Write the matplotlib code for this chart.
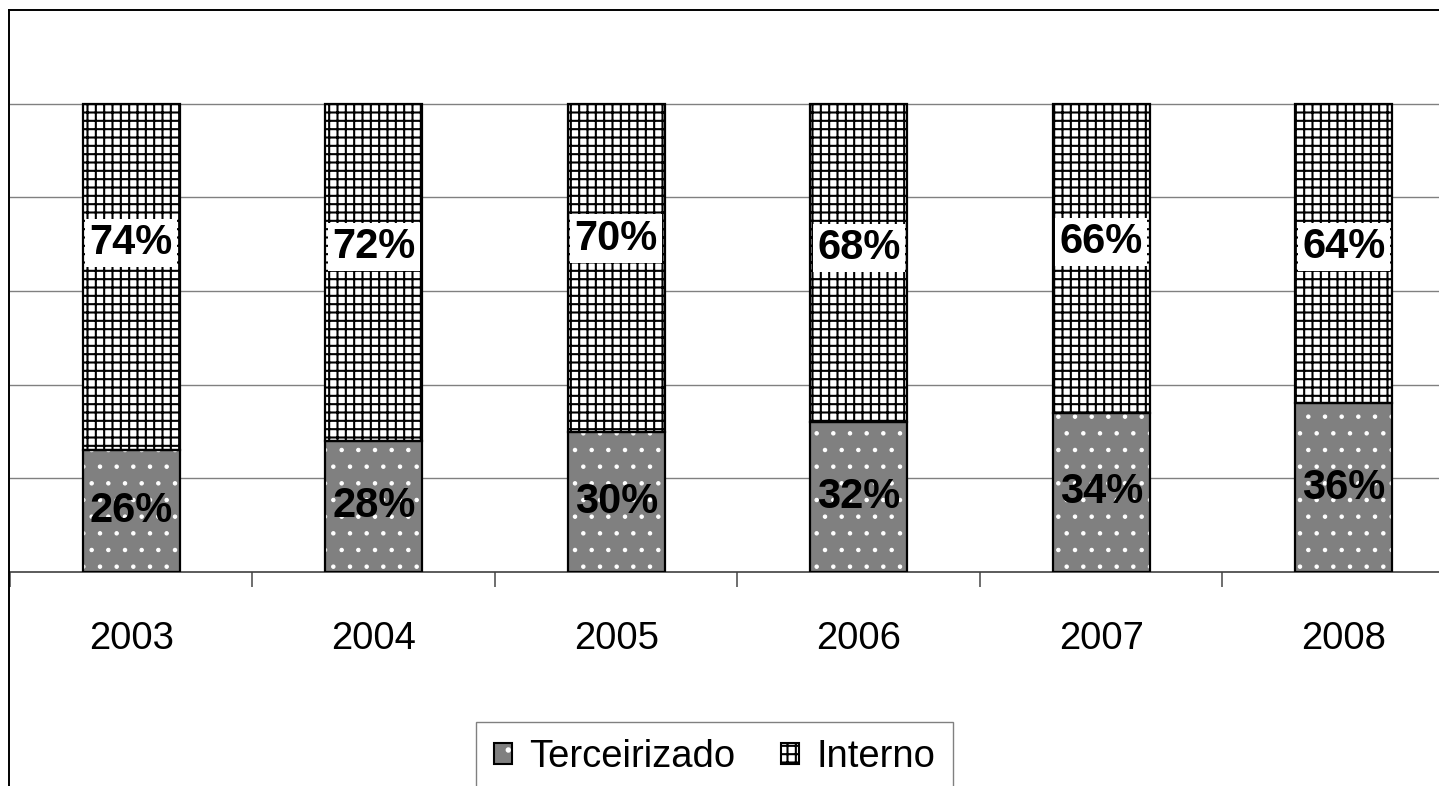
import matplotlib
matplotlib.use("Agg")
import matplotlib.pyplot as plt
from matplotlib.patches import Patch
from matplotlib.lines import Line2D
from matplotlib.legend_handler import HandlerTuple
import numpy as np

years = ["2003", "2004", "2005", "2006", "2007", "2008"]
terceirizado = [26, 28, 30, 32, 34, 36]
interno = [74, 72, 70, 68, 66, 64]

# the "interno" labels sit around 70 in the original, not centred in the segment
interno_label_y = [70.3, 69.4, 71.2, 69.2, 70.5, 69.4]

plt.rcParams["font.family"] = ["Liberation Sans", "DejaVu Sans"]

W, H = 1439, 786
fig = plt.figure(figsize=(W / 100, H / 100), dpi=100)
# plot area runs past the right edge of the picture (cropped chart)
ax = fig.add_axes([10 / W, (H - 572) / H, 1455 / W, 562 / H])

x = np.arange(len(years))
bw = 0.4

# fills with hatch first, black outlines drawn on top
plt.rcParams["hatch.linewidth"] = 0.8
ax.bar(x, terceirizado, bw, color="#808080", hatch=".", edgecolor="white", linewidth=0, zorder=2)
plt.rcParams["hatch.linewidth"] = 1.5
ax.bar(x, interno, bw, bottom=terceirizado, color="white", hatch="++", edgecolor="black", linewidth=0, zorder=2)
ax.bar(x, terceirizado, bw, fill=False, edgecolor="black", linewidth=1.6, zorder=3)
ax.bar(x, interno, bw, bottom=terceirizado, fill=False, edgecolor="black", linewidth=1.6, zorder=3)

for xi, t, i, ly in zip(x, terceirizado, interno, interno_label_y):
    ax.text(xi, t / 2, f"{t}%", ha="center", va="center", fontsize=30, fontweight="bold", zorder=4)
    ax.text(xi, ly, f"{i}%", ha="center", va="center", fontsize=30, fontweight="bold", zorder=4,
            bbox=dict(boxstyle="square,pad=0.1", fc="white", ec="none"))

ax.set_xlim(-0.5, len(years) - 0.5)
ax.set_ylim(0, 120)
ax.set_xticks(x)
ax.set_xticklabels(years, fontsize=27.5)
ax.tick_params(axis="x", which="major", length=0, pad=35)
ax.set_xticks(np.arange(-0.5, len(years)), minor=True)
ax.tick_params(axis="x", which="minor", length=11, width=1.2, color="#555555", direction="out")
ax.set_yticks([20, 40, 60, 80, 100])
ax.tick_params(axis="y", length=0, labelleft=False)
ax.grid(axis="y", color="#808080", lw=1)
ax.set_axisbelow(True)
for s in ["top", "left", "right"]:
    ax.spines[s].set_visible(False)
ax.spines["bottom"].set_color("#404040")
ax.spines["bottom"].set_linewidth(1.2)

# chart frame (only left and top edges are inside the crop)
fig.add_artist(Line2D([9 / W, 9 / W], [0, 1 - 10 / H], color="black", lw=1.4))
fig.add_artist(Line2D([9 / W, 1], [1 - 10 / H, 1 - 10 / H], color="black", lw=1.4))

h1 = (Patch(fc="#808080", hatch=".", ec="white", lw=0), Patch(fill=False, ec="black", lw=1.5))
h2 = (Patch(fc="white", hatch="++", ec="black", lw=0), Patch(fill=False, ec="black", lw=1.5))
leg = fig.legend([h1, h2], ["Terceirizado", "Interno"],
                 handler_map={tuple: HandlerTuple(ndivide=1, pad=0)},
                 loc="upper center", bbox_to_anchor=(714.5 / W, 1 - 722 / H),
                 borderaxespad=0, ncol=2, fontsize=27.5, handlelength=0.48, handleheight=0.48,
                 handletextpad=0.45, columnspacing=1.2, borderpad=0.45,
                 fancybox=False, framealpha=1, edgecolor="#808080")
leg.get_frame().set_linewidth(1.0)

fig.savefig("out.png", dpi=100)
